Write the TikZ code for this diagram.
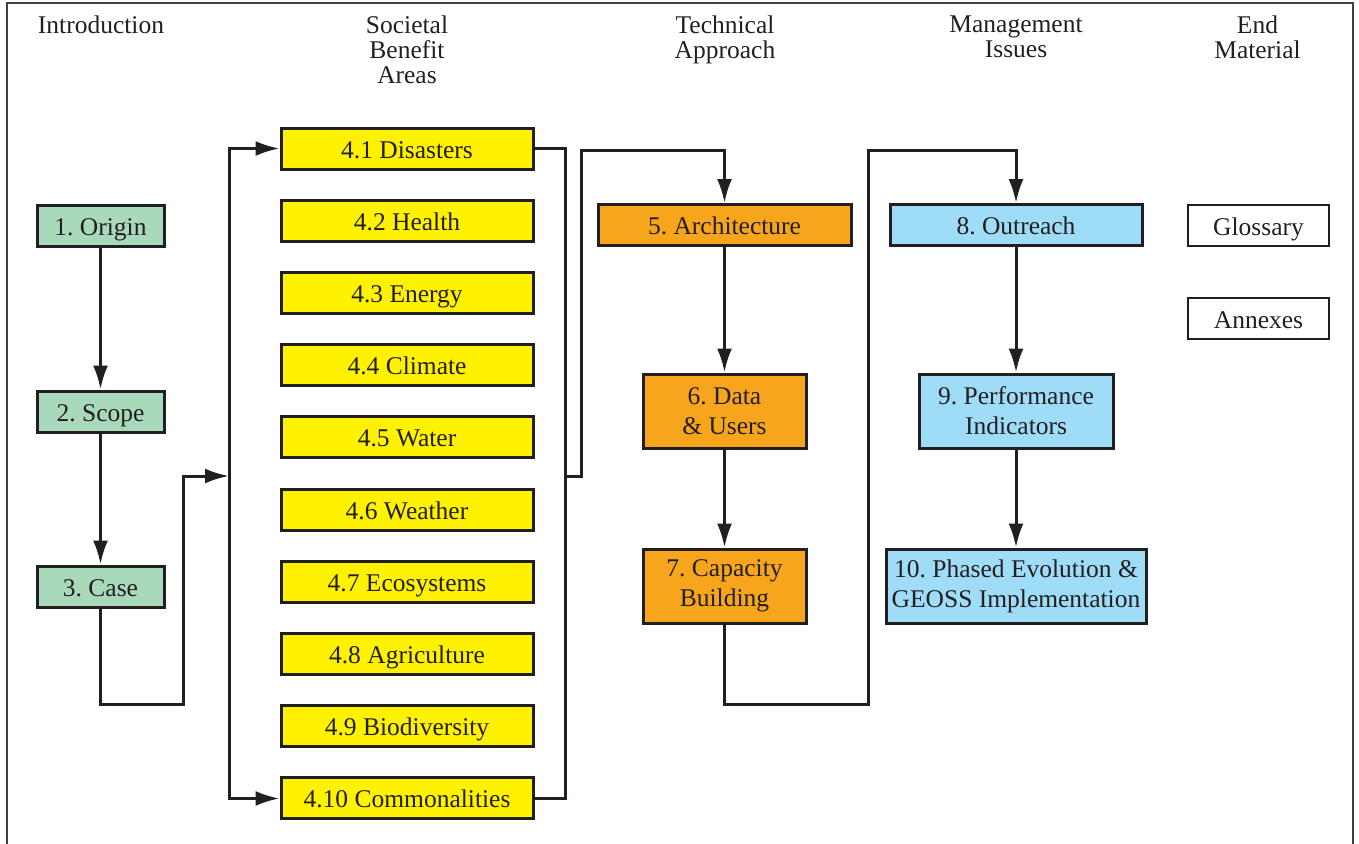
\documentclass[tikz,border=0pt]{standalone}
\usepackage{fontspec}
\setmainfont{Liberation Serif}
\frenchspacing
\usetikzlibrary{arrows.meta,positioning}
\definecolor{ink}{HTML}{231F20}
\definecolor{introgreen}{HTML}{A8D9BA}
\definecolor{sbayellow}{HTML}{FFF200}
\definecolor{techorange}{HTML}{F7A51C}
\definecolor{mgmtblue}{HTML}{9EDCF7}

\begin{document}
\begin{tikzpicture}[x=1pt,y=-1pt,>={Latex[length=24pt,width=15pt]},
                    line width=3pt,color=ink,node distance=72.22pt,
                    every node/.style={font=\fontsize{25.5}{30}\selectfont},
                    head/.style={align=center,anchor=north,inner sep=0pt,
                                 font=\fontsize{25.5}{25}\selectfont},
                    box/.style={draw=ink,line width=3pt,inner sep=0pt,minimum height=41pt,
                                text height=22pt,text depth=3pt},
                    tall box/.style={draw=ink,line width=3pt,inner sep=0pt,minimum height=74pt,
                                     align=center},
                    intro node/.style={box,fill=introgreen,minimum width=127pt},
                    sba node/.style={box,fill=sbayellow,minimum width=252pt},
                    tech node/.style={fill=techorange},
                    mgmt node/.style={fill=mgmtblue},
                    end node/.style={box,fill=white,line width=2.2pt,minimum width=141pt}]
  \useasboundingbox (0,0) rectangle (1359,843);
  \draw[line width=1.4pt,color=black!75] (7,3) rectangle (1353,860);

  % column headings
  \node[head] (h1) at (101,14) {Introduction};
  \node[head] (h2) at (407,14) {Societal\\Benefit\\Areas};
  \node[head] (h3) at (725,14) {Technical\\Approach};
  \node[head] (h4) at (1016,14) {Management\\Issues};
  \node[head] (h5) at (1257.5,14) {End\\Material};

  \node[intro node] (i1) at (100.5,225.5) {1. Origin};
  \node[intro node] (i2) [node distance=186pt,below of=i1] {2. Scope};
  \node[intro node] (i3) [node distance=175pt,below of=i2] {3. Case};

  \node[sba node] (s1) at (407,148.5) {4.1 Disasters};
  \node[sba node] (s2) [below of=s1] {4.2 Health};
  \node[sba node] (s3) [below of=s2] {4.3 Energy};
  \node[sba node] (s4) [below of=s3] {4.4 Climate};
  \node[sba node] (s5) [below of=s4] {4.5 Water};
  \node[sba node] (s6) [below of=s5] {4.6 Weather};
  \node[sba node] (s7) [below of=s6] {4.7 Ecosystems};
  \node[sba node] (s8) [below of=s7] {4.8 Agriculture};
  \node[sba node] (s9) [below of=s8] {4.9 Biodiversity};
  \node[sba node] (s10) [below of=s9] {4.10 Commonalities};

  \node[box,tech node,minimum width=253pt] (t5) at (724.5,225) {5. Architecture};
  \node[tall box,tech node,minimum width=163pt] (t6) [node distance=186pt,below of=t5] {6. Data\\\& Users};
  \node[tall box,tech node,minimum width=163pt] (t7) [node distance=175pt,below of=t6] {7. Capacity\\Building};

  \node[box,mgmt node,minimum width=252pt] (m8) at (1016,225) {8. Outreach};
  \node[tall box,mgmt node,minimum width=194pt] (m9) [node distance=186pt,below of=m8] {9. Performance\\Indicators};
  \node[tall box,mgmt node,minimum width=260pt] (m10) [node distance=175pt,below of=m9] {10. Phased Evolution \&\\GEOSS Implementation};

  \node[end node] (g) at (1258.5,225.5) {Glossary};
  \node[end node] (a) [node distance=93pt,below of=g] {Annexes};

  % bends of the connectors
  \coordinate (c1) at (183,704);
  \coordinate (c2) at (183,476);
  \coordinate (lbar) at (229,476);
  \coordinate (rbar) at (565,476);
  \coordinate (c3) at (581,476);
  \coordinate (c4) at (581,150);
  \coordinate (c5) at (868,704);
  \coordinate (c6) at (868,150);

  \draw[->] (i1) -- (i2);
  \draw[->] (i2) -- (i3);
  \draw[->] (i3) |- (c1) -- (c2) -- (lbar);
  \draw[->] (lbar) |- (s1);
  \draw[->] (lbar) |- (s10);
  \draw (s1) -| (rbar) |- (s10);
  \draw[->] (rbar) -- (c3) -- (c4) -| (t5);
  \draw[->] (t5) -- (t6);
  \draw[->] (t6) -- (t7);
  \draw[->] (t7) |- (c5) -- (c6) -| (m8);
  \draw[->] (m8) -- (m9);
  \draw[->] (m9) -- (m10);
\end{tikzpicture}
\end{document}
